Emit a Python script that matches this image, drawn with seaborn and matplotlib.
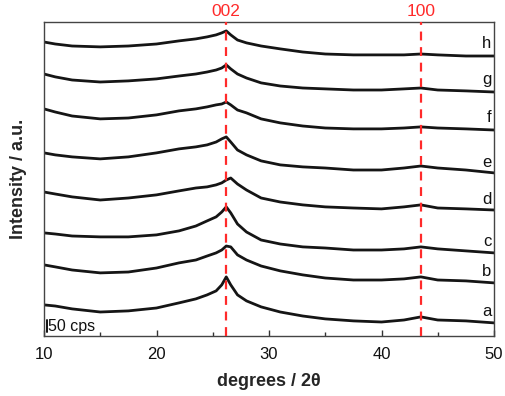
import matplotlib
matplotlib.use("Agg")
import matplotlib.pyplot as plt
import seaborn as sns
import pandas as pd
from matplotlib.ticker import MultipleLocator

sns.set_theme(style="white")
plt.rcParams['font.family'] = ['Liberation Sans', 'DejaVu Sans']

# 2-theta sample positions (degrees)
two_theta = [10, 11, 12.5, 15, 17.5, 20, 22, 23.5, 24.5, 25.3, 25.8, 26.2, 26.6,
             27.2, 28, 29.3, 31, 33, 35, 37.5, 40, 42, 43.5, 45, 47.5, 50]

# stacked intensities (cps, including vertical offset)
trace_a = [140, 135, 122, 108, 113, 126, 149, 167, 185, 203, 230, 266, 230,
           185, 158, 131, 108, 90, 77, 68, 63, 72, 86, 72, 68, 59]
trace_b = [320, 311, 297, 284, 288, 306, 329, 342, 360, 374, 387, 405, 401,
           365, 342, 315, 293, 275, 261, 252, 252, 257, 266, 252, 248, 239]
trace_c = [464, 459, 450, 446, 446, 455, 473, 495, 518, 536, 558, 581, 554,
           504, 468, 432, 414, 401, 396, 387, 387, 392, 401, 392, 383, 374]
trace_d = [648, 639, 626, 612, 621, 635, 653, 666, 671, 680, 689, 702, 711,
           684, 657, 621, 603, 590, 581, 576, 572, 581, 590, 576, 572, 567]
trace_e = [824, 815, 806, 797, 806, 824, 842, 851, 860, 873, 887, 896, 873,
           837, 815, 788, 770, 761, 756, 747, 747, 756, 765, 756, 747, 734]
trace_f = [1022, 1008, 990, 977, 981, 995, 1013, 1022, 1031, 1040, 1044, 1053, 1040,
           1017, 1004, 977, 959, 945, 936, 932, 932, 936, 941, 936, 932, 927]
trace_g = [1179, 1166, 1152, 1143, 1148, 1157, 1170, 1179, 1188, 1197, 1206, 1220, 1202,
           1179, 1161, 1139, 1125, 1116, 1112, 1107, 1107, 1112, 1116, 1107, 1103, 1098]
trace_h = [1323, 1314, 1305, 1301, 1305, 1314, 1328, 1337, 1346, 1355, 1364, 1373, 1355,
           1332, 1319, 1305, 1292, 1278, 1269, 1265, 1265, 1265, 1269, 1265, 1260, 1260]

sample_names = ["a", "b", "c", "d", "e", "f", "g", "h"]
traces = [trace_a, trace_b, trace_c, trace_d, trace_e, trace_f, trace_g, trace_h]
label_y = [108, 288, 423, 612, 779, 981, 1156, 1314]

peak_pos = [26.15, 43.5]
peak_labels = ["002", "100"]

scale_bar_cps = 50

rows = []
for name, tr in zip(sample_names, traces):
    for x, y in zip(two_theta, tr):
        rows.append({"sample": name, "two_theta": x, "intensity": y})
df = pd.DataFrame(rows)

fig = plt.figure(figsize=(5.05, 3.96), dpi=100)
ax = fig.add_axes([44/505, 60/396, 450/505, 314/396])

sns.lineplot(data=df, x="two_theta", y="intensity", hue="sample",
             palette=["#151515"] * len(sample_names), legend=False,
             linewidth=2.0, ax=ax, sort=False, estimator=None)

for p, lab in zip(peak_pos, peak_labels):
    ax.axvline(p, color="#ff2a2a", linestyle=(0, (4, 3)), linewidth=1.6, zorder=5)
    ax.text(p, 1.01, lab, transform=ax.get_xaxis_transform(), color="#ff2a2a",
            ha="center", va="bottom", fontsize=12.5)

for name, ly in zip(sample_names, label_y):
    ax.text(49.75, ly, name, ha="right", va="center", fontsize=12, color="#111111")

# scale bar
ax.plot([10.25, 10.25], [20, 20 + scale_bar_cps], color="#111111", linewidth=1.4)
ax.text(10.4, 42, f"{scale_bar_cps} cps", ha="left", va="center", fontsize=11.5, color="#111111")

ax.set_xlim(10, 50)
ax.set_ylim(0, 1413)
ax.set_yticks([])
ax.xaxis.set_major_locator(MultipleLocator(10))
ax.xaxis.set_minor_locator(MultipleLocator(5))
ax.tick_params(axis="x", which="major", direction="in", length=4, width=1,
               labelsize=12, bottom=True, colors="#333333", labelcolor="#111111", pad=8)
ax.tick_params(axis="x", which="minor", direction="in", length=3, width=1, bottom=True,
               colors="#333333")
for s in ax.spines.values():
    s.set_color("#444444")
    s.set_linewidth(1.0)

ax.set_xlabel("degrees / 2θ", fontsize=13, fontweight="bold", labelpad=8)
ax.set_ylabel("Intensity / a.u.", fontsize=13, fontweight="bold", labelpad=12)

fig.savefig("out.png", dpi=100)
